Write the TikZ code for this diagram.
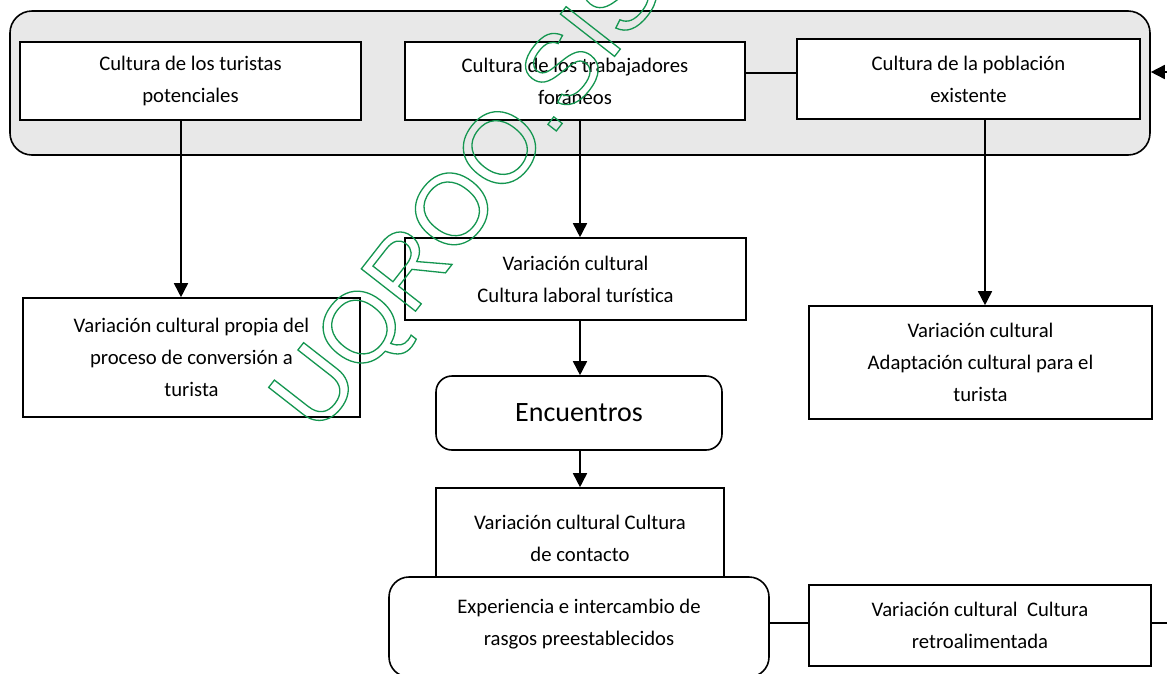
\documentclass[tikz,border=0pt]{standalone}
\usepackage{fontspec}
\setmainfont{Carlito}[Ligatures=NoCommon]
\newfontfamily\wmfont{Liberation Sans}
\usetikzlibrary{arrows.meta,positioning}
\definecolor{panelgray}{RGB}{232,232,232}
\definecolor{wmgreen}{RGB}{20,150,80}
\tikzset{
  box/.style={draw=black, line width=1.6pt, fill=white, align=center, inner sep=0pt,
    font=\fontsize{20.7}{32}\selectfont},
  rbox/.style={box, rounded corners=16pt},
  arr/.style={line width=1.6pt, -{Triangle[length=14pt,width=14pt]}},
  conn/.style={line width=1.6pt},
}
\begin{document}
\begin{tikzpicture}[x=1pt,y=-1pt]
\useasboundingbox (0,0) rectangle (1167,673);
\clip (0,0) rectangle (1167,673);
\fill[white] (0,0) rectangle (1167,673);
% container
\node[draw=black, line width=1.6pt, fill=panelgray, rounded corners=22pt,
  minimum width=1140pt, minimum height=144pt, inner sep=0pt] (panel) at (580,83) {};
% top row
\node[box, minimum width=341pt, minimum height=78pt] (A) at (190.5,81) {Cultura de los turistas\\potenciales};
\node[box, minimum width=340pt, minimum height=78pt] (B) at (575,81) {Cultura de los trabajadores\\foráneos};
\node[box, minimum width=343pt, minimum height=80pt] (C) at (968.5,79) {Cultura de la población\\existente};
% second level
\node[box, minimum width=337pt, minimum height=119pt] (D) at (191.5,357.5) {Variación cultural propia del\\proceso de conversión a\\turista};
\node[box, minimum width=341pt, minimum height=82pt] (E) at (575.5,279) {Variación cultural\\Cultura laboral turística};
\node[box, minimum width=343pt, minimum height=113pt] (I) at (980.5,362.5) {Variación cultural\\Adaptación cultural para el\\turista};
\node[rbox, minimum width=286pt, minimum height=74pt, font=\fontsize{28}{34}\selectfont] (Enc) at (579,413) {Encuentros};
\node[box, minimum width=288pt, minimum height=100pt] (F) at (580,538) {Variación cultural Cultura\\de contacto};
\node[rbox, rounded corners=20pt, minimum width=380pt, minimum height=100pt] (G) at (579,627) {};
\node[align=center, inner sep=0pt, font=\fontsize{20.7}{32}\selectfont] (Gt) at (579,624) {Experiencia e intercambio de\\rasgos preestablecidos};
\node[box, minimum width=342pt, minimum height=81pt] (H) at (980,625.5) {Variación cultural\ \ Cultura\\retroalimentada};
% helper coordinates
\coordinate (xa) at (181,0);
\coordinate (xb) at (580,0);
\coordinate (xc) at (985,0);
\coordinate (ya) at (0,73);
\coordinate (yg) at (0,623);
\coordinate (yin) at (0,72);
\coordinate (edgeTop) at (1167,72);
\coordinate (edgeBot) at (1167,623);
% connectors
\draw[arr] (A.south -| xa) -- (D.north -| xa);
\draw[arr] (B.south -| xb) -- (E.north -| xb);
\draw[arr] (E.south -| xb) -- (Enc.north -| xb);
\draw[arr] (Enc.south -| xb) -- (F.north -| xb);
\draw[arr] (C.south -| xc) -- (I.north -| xc);
\draw[conn] (B.east |- ya) -- (C.west |- ya);
\draw[conn] (G.east |- yg) -- (H.west |- yg);
\draw[conn] (H.east |- yg) -- (edgeBot);
\draw[arr] (edgeTop) -- (panel.east |- yin);
% watermark
\node[anchor=base west, rotate=52, inner sep=0pt, text=wmgreen,
  font=\wmfont\fontsize{100}{100}\selectfont] (wm) at (318,436)
  {\special{pdf:literal direct 1 Tr 1.3 w}UQROO.SIS\special{pdf:literal direct 0 Tr}};
\end{tikzpicture}
\end{document}
